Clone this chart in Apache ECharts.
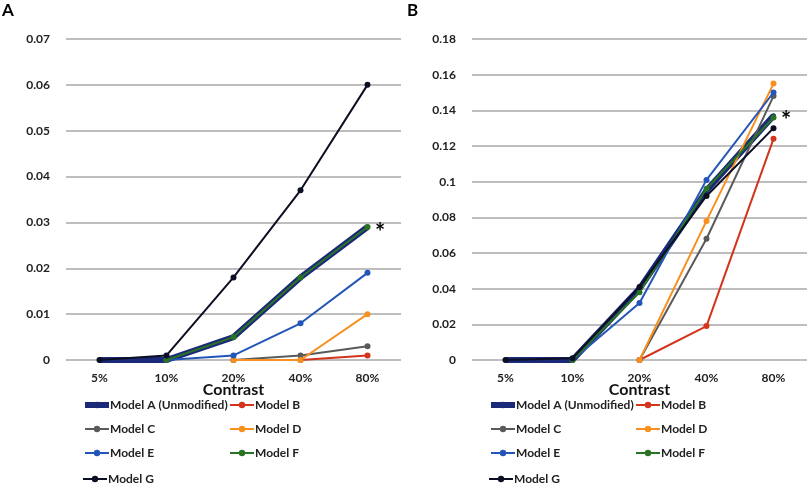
<!DOCTYPE html>
<html>
<head>
<meta charset="utf-8">
<script src="https://cdn.jsdelivr.net/npm/echarts@6/dist/echarts.min.js"></script>
<style>html,body{margin:0;padding:0;background:#fff}#c{width:810px;height:484px}</style>
</head>
<body>
<div id="c"></div>
<script>
const categories = ['5%', '10%', '20%', '40%', '80%'];
const seriesNames = ['Model A (Unmodified)', 'Model B', 'Model C', 'Model D', 'Model E', 'Model F', 'Model G'];
const colors = ['#1b2a78', '#d2341c', '#5a5a5a', '#f7901e', '#2356b8', '#2a7324', '#0c0f24'];
const widths = [6, 2, 2, 2, 2, 2, 2];

// Panel A values
const A_modelA = [0, 0, 0.005, 0.018, 0.029];
const A_modelB = [null, null, 0, 0, 0.001];
const A_modelC = [null, null, 0, 0.001, 0.003];
const A_modelD = [null, null, 0, 0, 0.010];
const A_modelE = [null, 0, 0.001, 0.008, 0.019];
const A_modelF = [null, 0, 0.005, 0.018, 0.029];
const A_modelG = [0, 0.001, 0.018, 0.037, 0.060];

// Panel B values
const B_modelA = [0, 0, 0.040, 0.095, 0.137];
const B_modelB = [null, null, 0, 0.019, 0.124];
const B_modelC = [null, null, 0, 0.068, 0.148];
const B_modelD = [null, null, 0, 0.078, 0.155];
const B_modelE = [null, 0, 0.032, 0.101, 0.150];
const B_modelF = [null, 0, 0.038, 0.096, 0.136];
const B_modelG = [0, 0.001, 0.041, 0.092, 0.130];

const panelA = [A_modelA, A_modelB, A_modelC, A_modelD, A_modelE, A_modelF, A_modelG];
const panelB = [B_modelA, B_modelB, B_modelC, B_modelD, B_modelE, B_modelF, B_modelG];

const FONT = 'Lato';
const chart = echarts.init(document.getElementById('c'));

function makeSeries(vals, idx) {
  return vals.map((v, i) => {
    let data = v.slice();
    if (i === 0) {
      data = v.map((d, k) => k === v.length - 1 ? {
        value: d,
        label: {show: true, position: 'right', formatter: '*', fontSize: 24, fontWeight: 'bold', color: '#000', fontFamily: FONT, offset: [0, 6]}
      } : d);
    }
    return {
      name: seriesNames[i],
      type: 'line',
      xAxisIndex: idx, yAxisIndex: idx,
      data: data,
      color: colors[i],
      lineStyle: {width: widths[i], color: colors[i]},
      itemStyle: {color: colors[i]},
      symbol: 'circle',
      symbolSize: i === 0 ? 5 : 6,
      showSymbol: true,
      connectNulls: false,
      animation: false,
      z: 2 + i
    };
  });
}

const axisLabelStyle = {fontFamily: FONT, fontWeight: 'bold', fontSize: 12, color: '#222'};

function xAxis(idx) {
  return {
    type: 'category', gridIndex: idx, data: categories, boundaryGap: true,
    axisLine: {show: false}, axisTick: {show: false},
    axisLabel: Object.assign({margin: 12}, axisLabelStyle),
    name: 'Contrast', nameLocation: 'middle', nameGap: 22, nameMoveOverlap: false,
    nameTextStyle: {fontFamily: FONT, fontWeight: 'bold', fontSize: 16, color: '#111'}
  };
}
function yAxis(idx, max, interval) {
  return {
    type: 'value', gridIndex: idx, min: 0, max: max, interval: interval,
    axisLine: {show: false}, axisTick: {show: false},
    axisLabel: Object.assign({margin: 16}, axisLabelStyle),
    splitLine: {lineStyle: {color: '#a8a8a8', width: 1.5}}
  };
}

function legendItem(i) {
  return i === 0 ? {name: seriesNames[0], lineStyle: {width: 6}} : {name: seriesNames[i]};
}

function legend(left, top, idxs) {
  return {
    left: left, top: top, orient: 'vertical', itemGap: 12,
    itemWidth: 24, itemHeight: 8,
    data: idxs.map(legendItem),
    textStyle: {fontFamily: FONT, fontWeight: 'bold', fontSize: 12, color: '#222', padding: [0, 0, 0, -4]},
    selectedMode: false
  };
}

chart.setOption({
  animation: false,
  textStyle: {fontFamily: FONT},
  grid: [
    {left: 66, top: 39, width: 335, height: 321},
    {left: 472, top: 39, width: 335, height: 321}
  ],
  xAxis: [xAxis(0), xAxis(1)],
  yAxis: [yAxis(0, 0.07, 0.01), yAxis(1, 0.18, 0.02)],
  legend: [
    legend(77, 394, [0, 2, 4]),
    legend(224, 394, [1, 3, 5]),
    legend(77, 468, [6]),
    legend(483, 394, [0, 2, 4]),
    legend(630, 394, [1, 3, 5]),
    legend(483, 468, [6])
  ],
  graphic: [
    {type: 'text', left: 2, top: 2, style: {text: 'A', font: 'bold 17px ' + FONT, fill: '#000'}},
    {type: 'text', left: 407, top: 2, style: {text: 'B', font: 'bold 17px ' + FONT, fill: '#000'}}
  ],
  series: makeSeries(panelA, 0).concat(makeSeries(panelB, 1))
});
</script>
</body>
</html>
